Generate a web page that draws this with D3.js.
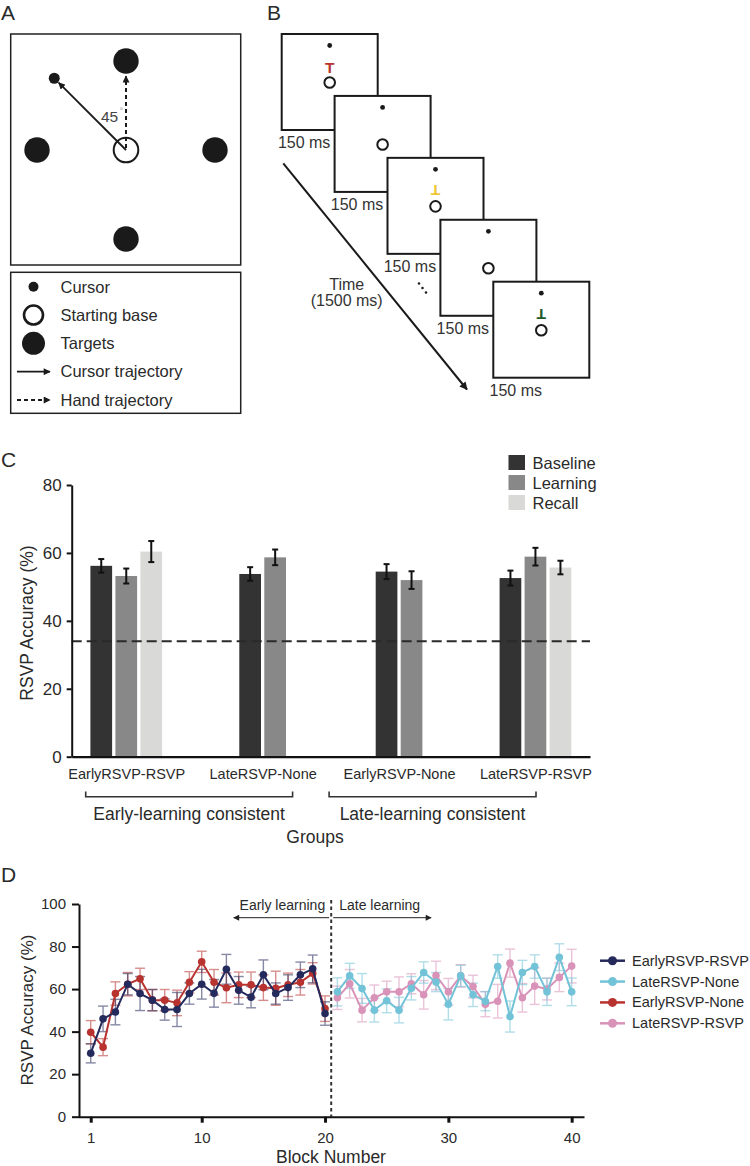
<!DOCTYPE html>
<html><head><meta charset="utf-8">
<script src="https://cdn.jsdelivr.net/npm/d3@7"></script>
<style>
body{margin:0;background:#fff}
svg{display:block}
text{font-family:"Liberation Sans",Arial,Helvetica,sans-serif;fill:#2a2a2a}
</style>
</head><body>
<svg id="fig" width="750" height="1166"></svg>
<script>
// ---------------- DATA ----------------
// Panel A
const targetAngles = [0, 90, 180, 270];
const cursorAngle = -45;
const legendAItems = ["Cursor", "Starting base", "Targets", "Cursor trajectory", "Hand trajectory"];
// Panel B
const frameLetters = ["T", "", "\u22A5", "", "\u22A5"];
const frameLetterColors = ["#b8332b", "none", "#f0c534", "none", "#1f5a2a"];
const frameLabels = ["150 ms", "150 ms", "150 ms", "150 ms", "150 ms"];
// Panel C
const barGroups = ["EarlyRSVP-RSVP", "LateRSVP-None", "EarlyRSVP-None", "LateRSVP-RSVP"];
const barPhases = ["Baseline", "Learning", "Recall"];
const phaseColors = ["#333333", "#888888", "#d9dad7"];
const baselineMean = [56.2, 53.8, 54.5, 52.6];
const baselineSE = [2.0, 2.0, 2.2, 2.2];
const learningMean = [53.2, 58.7, 52.0, 58.9];
const learningSE = [2.2, 2.3, 2.6, 2.6];
const recallMean = [60.4, null, null, 55.7];
const recallSE = [3.1, null, null, 2.0];
const chanceLevel = 34;
const barYTicks = [0, 20, 40, 60, 80];
const groupClusters = ["Early-learning consistent", "Late-learning consistent"];
// Panel D
const blocksEarly = [1,2,3,4,5,6,7,8,9,10,11,12,13,14,15,16,17,18,19,20];
const blocksLate = [21,22,23,24,25,26,27,28,29,30,31,32,33,34,35,36,37,38,39,40];
const earlyRsvpRsvp = [29.8,46.0,49.2,62.3,57.9,54.8,50.4,50.4,57.9,62.3,58.0,69.3,59.4,56.2,66.7,57.9,60.7,66.7,69.5,48.5];
const earlyRsvpRsvpSE = [4.5,6,6,5,8,5,5,8,5,7,6.5,7,6.5,5,7,5,6,6,6.5,5.5];
const earlyRsvpNone = [39.7,32.7,57.9,62.3,64.8,54.8,54.8,53.5,63.2,72.8,63.2,60.6,62.0,62.0,60.7,60.4,62.0,63.2,67.4,50.8];
const earlyRsvpNoneSE = [5.5,4,5.5,5.5,5,5,5,6,5,5,6,7,6,6,6,8,5.5,6,5,6];
const lateRsvpNone = [58.7,66.2,60.3,50.1,54.5,50.1,60.4,67.8,63.3,52.9,66.2,57.3,54.3,70.6,47.1,67.8,70.6,58.7,75.0,58.7];
const lateRsvpNoneSE = [6.6,5.9,7,5.6,5.6,6,5.5,5,4.5,7.4,5,5.5,4.5,5.5,7.3,5.7,5.5,6.4,6.3,6.5];
const lateRsvpRsvp = [55.9,62.5,50.1,55.9,58.7,58.7,62.5,57.3,66.4,58.7,66.2,61.2,52.9,54.3,72.2,55.9,61.4,60.0,65.5,70.8];
const lateRsvpRsvpSE = [5.5,6.7,5.5,6,5,7,4.7,6.7,6.7,6.3,5.3,5.3,5.9,7.9,6.6,6.7,8.6,5.1,6.7,7.9];
const lineSeriesNames = ["EarlyRSVP-RSVP", "LateRSVP-None", "EarlyRSVP-None", "LateRSVP-RSVP"];
const lineColors = ["#252a5c", "#72c3d7", "#b8332f", "#d993b9"];
const lineYTicks = [0, 20, 40, 60, 80, 100];
const lineXTicks = [1, 10, 20, 30, 40];
const phaseBoundary = 20.5;

// ---------------- SETUP ----------------
const svg = d3.select("#fig");
const defs = svg.append("defs");
function marker(id, color, w, h) {
  defs.append("marker").attr("id", id).attr("viewBox", "0 0 10 10")
    .attr("refX", 9).attr("refY", 5).attr("markerUnits", "userSpaceOnUse")
    .attr("markerWidth", w).attr("markerHeight", h).attr("orient", "auto-start-reverse")
    .append("path").attr("d", "M0,0L10,5L0,10z").attr("fill", color);
}
marker("arrA", "#1a1a1a", 8, 7);
marker("arrB", "#1a1a1a", 9, 8);
marker("arrD", "#222", 7, 6);

// Panel letters
[["A", 1, 20], ["B", 267, 20], ["C", 1, 467], ["D", 1, 882]].forEach(([t, x, y]) =>
  svg.append("text").attr("x", x).attr("y", y).attr("font-size", 21).text(t));

// ---------------- PANEL A ----------------
const gA = svg.append("g");
gA.append("rect").attr("x", 10.7).attr("y", 34).attr("width", 230).attr("height", 231)
  .attr("fill", "none").attr("stroke", "#222").attr("stroke-width", 1.5);
const cA = {x: 126, y: 150};
const polar = d3.scaleLinear().domain([0, 1]).range([0, 89]);
function pt(angleDeg, r) {
  const a = angleDeg * Math.PI / 180;
  return {x: cA.x + polar(r) * Math.sin(a), y: cA.y - polar(r) * Math.cos(a)};
}
targetAngles.forEach(a => {
  const p = pt(a, 1);
  gA.append("circle").attr("cx", p.x).attr("cy", p.y).attr("r", 12.7).attr("fill", "#1a1a1a");
});
const hEnd = pt(0, 0.83);
gA.append("line").attr("x1", cA.x).attr("y1", cA.y - 2).attr("x2", hEnd.x).attr("y2", hEnd.y)
  .attr("stroke", "#1a1a1a").attr("stroke-width", 2).attr("stroke-dasharray", "4,3")
  .attr("marker-end", "url(#arrA)");
const cEnd = pt(cursorAngle, 1.07);
const cPos = pt(cursorAngle, 1.14);
gA.append("line").attr("x1", cA.x).attr("y1", cA.y).attr("x2", cEnd.x).attr("y2", cEnd.y)
  .attr("stroke", "#1a1a1a").attr("stroke-width", 1.8).attr("marker-end", "url(#arrA)");
gA.append("circle").attr("cx", cPos.x).attr("cy", cPos.y).attr("r", 5.5).attr("fill", "#1a1a1a");
gA.append("circle").attr("cx", cA.x).attr("cy", cA.y).attr("r", 12.3).attr("fill", "none")
  .attr("stroke", "#1a1a1a").attr("stroke-width", 2);
gA.append("text").attr("x", 101).attr("y", 121.7).attr("font-size", 15.5).style("fill", "#444").text("45");
gA.append("text").attr("x", 119.5).attr("y", 114).attr("font-size", 9).style("fill", "#999").text("°");

// Legend A
gA.append("rect").attr("x", 10.7).attr("y", 272.3).attr("width", 230).attr("height", 141)
  .attr("fill", "none").attr("stroke", "#222").attr("stroke-width", 1.5);
const legAy = d3.scalePoint().domain(legendAItems).range([286.7, 400]);
legendAItems.forEach((name, i) => {
  const y = legAy(name);
  if (i === 0) gA.append("circle").attr("cx", 33.5).attr("cy", y).attr("r", 5).attr("fill", "#1a1a1a");
  if (i === 1) gA.append("circle").attr("cx", 33.5).attr("cy", y).attr("r", 9.5).attr("fill", "none").attr("stroke", "#1a1a1a").attr("stroke-width", 2.6);
  if (i === 2) gA.append("circle").attr("cx", 33.5).attr("cy", y).attr("r", 11.5).attr("fill", "#1a1a1a");
  if (i === 3) gA.append("line").attr("x1", 17).attr("x2", 50).attr("y1", y).attr("y2", y)
      .attr("stroke", "#1a1a1a").attr("stroke-width", 1.8).attr("marker-end", "url(#arrA)");
  if (i === 4) gA.append("line").attr("x1", 17).attr("x2", 50).attr("y1", y).attr("y2", y)
      .attr("stroke", "#1a1a1a").attr("stroke-width", 1.8).attr("stroke-dasharray", "4,3").attr("marker-end", "url(#arrA)");
  gA.append("text").attr("x", 60.5).attr("y", y + 5.8).attr("font-size", 16.5).text(name);
});

// ---------------- PANEL B ----------------
const gB = svg.append("g");
const frameIdx = frameLetters.map((d, i) => i);
const fX = d3.scaleLinear().domain([0, 4]).range([281.7, 493.3]);
const fY = d3.scaleLinear().domain([0, 4]).range([34, 281.7]);
const fS = 96;
gB.append("line").attr("x1", 283.3).attr("y1", 163.3).attr("x2", 467).attr("y2", 389.5)
  .attr("stroke", "#1a1a1a").attr("stroke-width", 2).attr("marker-end", "url(#arrB)");
gB.append("text").attr("x", 346.7).attr("y", 289.5).attr("text-anchor", "middle").attr("font-size", 16).style("fill", "#333").text("Time");
gB.append("text").attr("x", 346.7).attr("y", 306).attr("text-anchor", "middle").attr("font-size", 16).style("fill", "#333").text("(1500 ms)");
frameIdx.forEach(i => {
  const x = fX(i), y = fY(i);
  const g = gB.append("g");
  g.append("rect").attr("x", x).attr("y", y).attr("width", fS).attr("height", fS)
    .attr("fill", "#fff").attr("stroke", "#1a1a1a").attr("stroke-width", 2);
  g.append("circle").attr("cx", x + fS / 2).attr("cy", y + 11.5).attr("r", 2.4).attr("fill", "#1a1a1a");
  g.append("circle").attr("cx", x + fS / 2).attr("cy", y + 48.5).attr("r", 5.3).attr("fill", "none")
    .attr("stroke", "#1a1a1a").attr("stroke-width", 2);
  if (frameLetters[i]) {
    const cy = y + 33;
    const rot = frameLetters[i] === "T" ? 0 : 180;
    g.append("text").attr("x", x + fS / 2).attr("y", cy + 5.6).attr("text-anchor", "middle")
      .attr("font-size", 15.5).attr("font-weight", "bold").style("fill", frameLetterColors[i])
      .attr("transform", `rotate(${rot},${x + fS / 2},${cy})`).text("T");
  }
  g.append("text").attr("x", x - 3.8).attr("y", y + fS + 18).attr("font-size", 16).style("fill", "#333").text(frameLabels[i]);
});
[[419, 283.5], [422.5, 288], [426, 292.5]].forEach(([x, y]) =>
  gB.append("circle").attr("cx", x).attr("cy", y).attr("r", 1.3).attr("fill", "#222"));

// ---------------- PANEL C ----------------
const gC = svg.append("g");
const yC = d3.scaleLinear().domain([0, 80]).range([756.7, 485]);
const xC = d3.scalePoint().domain(barGroups).range([71.7, 590]).padding(0.4);
const pitch = 25, barW = 21.7;
const means = [baselineMean, learningMean, recallMean];
const ses = [baselineSE, learningSE, recallSE];
const barData = [];
barGroups.forEach((g, gi) => {
  const present = barPhases.map((p, pi) => pi).filter(pi => means[pi][gi] != null);
  present.forEach((pi, k) => {
    barData.push({group: g, phase: pi, mean: means[pi][gi], se: ses[pi][gi],
      cx: xC(g) + (k - (present.length - 1) / 2) * pitch});
  });
});
gC.selectAll("rect.bar").data(barData).enter().append("rect")
  .attr("x", d => d.cx - barW / 2).attr("y", d => yC(d.mean))
  .attr("width", barW).attr("height", d => yC(0) - yC(d.mean))
  .attr("fill", d => phaseColors[d.phase]);
gC.append("line").attr("x1", 71.7).attr("x2", 590).attr("y1", yC(chanceLevel)).attr("y2", yC(chanceLevel))
  .attr("stroke", "#2a2a2a").attr("stroke-width", 2).attr("stroke-dasharray", "10,5");
const eb = gC.selectAll("g.eb").data(barData).enter().append("g").attr("stroke", "#111").attr("stroke-width", 2);
eb.append("line").attr("x1", d => d.cx).attr("x2", d => d.cx).attr("y1", d => yC(d.mean - d.se)).attr("y2", d => yC(d.mean + d.se));
eb.append("line").attr("x1", d => d.cx - 3).attr("x2", d => d.cx + 3).attr("y1", d => yC(d.mean - d.se)).attr("y2", d => yC(d.mean - d.se));
eb.append("line").attr("x1", d => d.cx - 3).attr("x2", d => d.cx + 3).attr("y1", d => yC(d.mean + d.se)).attr("y2", d => yC(d.mean + d.se));
const axCy = gC.append("g").attr("transform", "translate(71.7,0)")
  .call(d3.axisLeft(yC).tickValues(barYTicks).tickSize(5).tickSizeOuter(0).tickPadding(5));
axCy.select(".domain").attr("stroke", "#111").attr("stroke-width", 2);
axCy.selectAll(".tick line").attr("stroke", "#111").attr("stroke-width", 2);
axCy.selectAll(".tick text").attr("font-size", 17).attr("font-family", null).style("fill", "#2a2a2a");
const axCx = gC.append("g").attr("transform", "translate(0,756.7)")
  .call(d3.axisBottom(xC).tickSize(0).tickSizeOuter(0).tickPadding(12));
axCx.select(".domain").attr("stroke", "#111").attr("stroke-width", 2.2);
axCx.selectAll(".tick text").attr("font-size", 14.5).attr("font-family", null).style("fill", "#2a2a2a");
gC.append("text").attr("transform", "translate(33,623) rotate(-90)").attr("text-anchor", "middle")
  .attr("font-size", 17.5).text("RSVP Accuracy (%)");
const xCl = d3.scaleBand().domain(groupClusters).range([85.7, 536]).paddingInner(0.15);
groupClusters.forEach(c => {
  const x0 = xCl(c), x1 = xCl(c) + xCl.bandwidth();
  gC.append("path").attr("d", `M${x0},791.5V796.7H${x1}V791.5`).attr("fill", "none")
    .attr("stroke", "#333").attr("stroke-width", 1.6);
  gC.append("text").attr("x", (x0 + x1) / 2).attr("y", 819.5).attr("text-anchor", "middle")
    .attr("font-size", 17.5).text(c);
});
gC.append("text").attr("x", 315).attr("y", 843).attr("text-anchor", "middle").attr("font-size", 17.5).text("Groups");
const legCy = d3.scalePoint().domain(barPhases).range([462.5, 502.5]);
barPhases.forEach((p, i) => {
  gC.append("rect").attr("x", 508.5).attr("y", legCy(p) - 7.5).attr("width", 16.5).attr("height", 15).attr("fill", phaseColors[i]);
  gC.append("text").attr("x", 532.5).attr("y", legCy(p) + 6).attr("font-size", 16.5).text(p);
});

// ---------------- PANEL D ----------------
const gD = svg.append("g");
const xD = d3.scaleLinear().domain([0, 41]).range([78.4, 584]);
const yD = d3.scaleLinear().domain([0, 100]).range([1116.7, 904]);
const series = [
  {name: lineSeriesNames[3], color: lineColors[3], x: blocksLate, y: lateRsvpRsvp, se: lateRsvpRsvpSE},
  {name: lineSeriesNames[1], color: lineColors[1], x: blocksLate, y: lateRsvpNone, se: lateRsvpNoneSE},
  {name: lineSeriesNames[2], color: lineColors[2], x: blocksEarly, y: earlyRsvpNone, se: earlyRsvpNoneSE},
  {name: lineSeriesNames[0], color: lineColors[0], x: blocksEarly, y: earlyRsvpRsvp, se: earlyRsvpRsvpSE}
];
series.forEach(s => {
  const pts = s.x.map((b, i) => ({b, v: s.y[i], e: s.se[i]}));
  const g = gD.append("g").attr("stroke", s.color).attr("stroke-width", 1.4).attr("opacity", 0.55);
  pts.forEach(p => {
    g.append("line").attr("x1", xD(p.b)).attr("x2", xD(p.b)).attr("y1", yD(p.v - p.e)).attr("y2", yD(p.v + p.e));
    g.append("line").attr("x1", xD(p.b) - 5).attr("x2", xD(p.b) + 5).attr("y1", yD(p.v - p.e)).attr("y2", yD(p.v - p.e));
    g.append("line").attr("x1", xD(p.b) - 5).attr("x2", xD(p.b) + 5).attr("y1", yD(p.v + p.e)).attr("y2", yD(p.v + p.e));
  });
});
series.forEach(s => {
  const pts = s.x.map((b, i) => ({b, v: s.y[i]}));
  gD.append("path").datum(pts).attr("fill", "none").attr("stroke", s.color).attr("stroke-width", 2)
    .attr("d", d3.line().x(d => xD(d.b)).y(d => yD(d.v)));
  gD.selectAll(null).data(pts).enter().append("circle")
    .attr("cx", d => xD(d.b)).attr("cy", d => yD(d.v)).attr("r", 3.8).attr("fill", s.color);
});
gD.append("line").attr("x1", xD(phaseBoundary)).attr("x2", xD(phaseBoundary)).attr("y1", 900).attr("y2", 1116.7)
  .attr("stroke", "#333").attr("stroke-width", 2).attr("stroke-dasharray", "3.5,3");
gD.append("line").attr("x1", xD(phaseBoundary) - 2).attr("x2", xD(12.6)).attr("y1", 917.7).attr("y2", 917.7)
  .attr("stroke", "#222").attr("stroke-width", 1).attr("marker-end", "url(#arrD)");
gD.append("line").attr("x1", xD(phaseBoundary) + 2).attr("x2", xD(28.6)).attr("y1", 917.7).attr("y2", 917.7)
  .attr("stroke", "#222").attr("stroke-width", 1).attr("marker-end", "url(#arrD)");
gD.append("text").attr("x", xD(phaseBoundary) - 6).attr("y", 910).attr("text-anchor", "end").attr("font-size", 14).text("Early learning");
gD.append("text").attr("x", xD(phaseBoundary) + 8).attr("y", 910).attr("font-size", 14).text("Late learning");
const axDy = gD.append("g").attr("transform", `translate(${xD(0) + 0.6},0)`)
  .call(d3.axisLeft(yD).tickValues(lineYTicks).tickSize(7).tickSizeOuter(0).tickPadding(6));
axDy.select(".domain").attr("stroke", "#111").attr("stroke-width", 2);
axDy.selectAll(".tick line").attr("stroke", "#111").attr("stroke-width", 2);
axDy.selectAll(".tick text").attr("font-size", 15).attr("font-family", null).style("fill", "#2a2a2a");
const axDx = gD.append("g").attr("transform", "translate(0,1116.7)")
  .call(d3.axisBottom(xD).tickValues(lineXTicks).tickSize(6).tickSizeOuter(0).tickPadding(10));
axDx.select(".domain").attr("stroke", "#111").attr("stroke-width", 2);
axDx.selectAll(".tick line").attr("stroke", "#111").attr("stroke-width", 3);
axDx.selectAll(".tick text").attr("font-size", 15).attr("font-family", null).style("fill", "#2a2a2a");
gD.append("text").attr("transform", "translate(33,1010) rotate(-90)").attr("text-anchor", "middle")
  .attr("font-size", 17).text("RSVP Accuracy (%)");
gD.append("text").attr("x", 331).attr("y", 1163).attr("text-anchor", "middle").attr("font-size", 17.5).text("Block Number");
const legDy = d3.scalePoint().domain(lineSeriesNames).range([960.7, 1023.3]);
lineSeriesNames.forEach((n, i) => {
  const y = legDy(n);
  gD.append("line").attr("x1", 600).attr("x2", 625).attr("y1", y).attr("y2", y).attr("stroke", lineColors[i]).attr("stroke-width", 2.5);
  gD.append("circle").attr("cx", 612.5).attr("cy", y).attr("r", 4.5).attr("fill", lineColors[i]);
  gD.append("text").attr("x", 632).attr("y", y + 5).attr("font-size", 14.5).text(n);
});
</script>
</body></html>
